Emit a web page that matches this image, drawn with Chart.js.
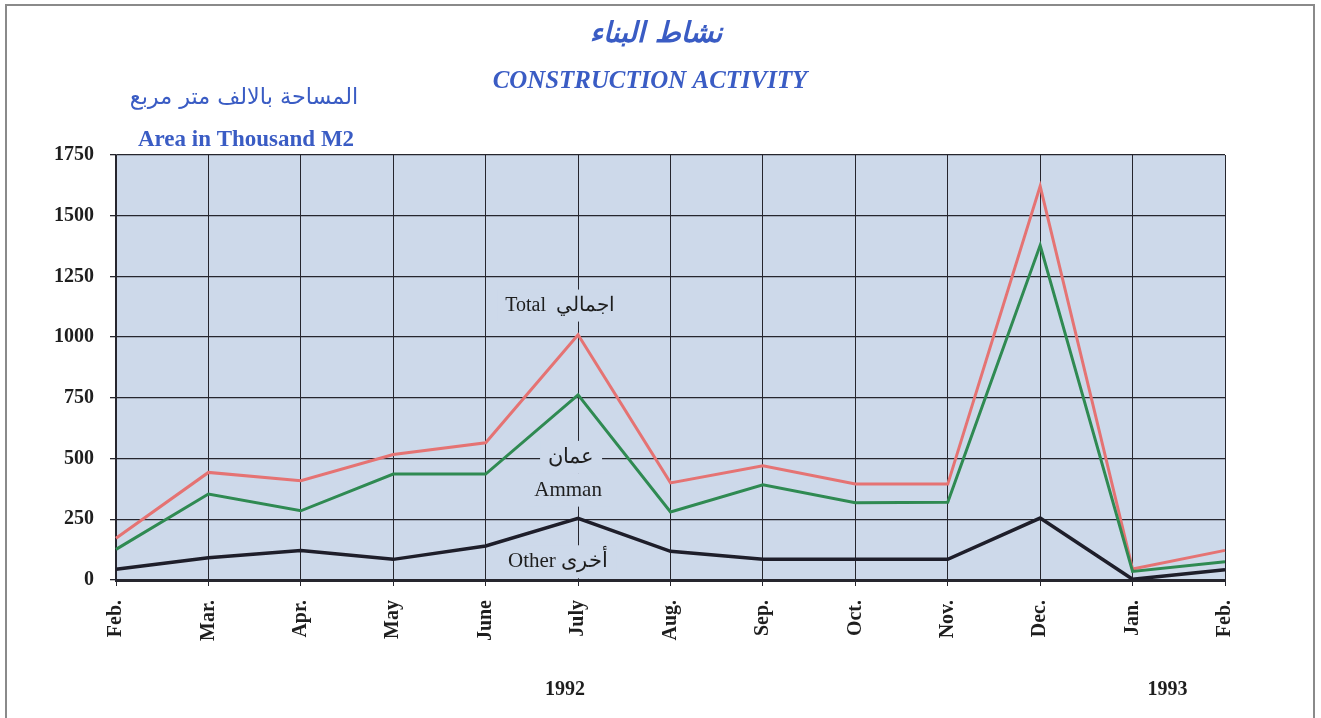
<!DOCTYPE html>
<html>
<head>
<meta charset="utf-8">
<script src="https://cdn.jsdelivr.net/npm/chart.js@4.4.1/dist/chart.umd.min.js"></script>
<style>
  html, body { margin: 0; padding: 0; background: #fff; }
  canvas { display: block; }
</style>
</head>
<body>
<canvas id="constructionChart" width="1321" height="718"></canvas>
<script>
// Data (area in thousand m2)
const months = ['Feb.', 'Mar.', 'Apr.', 'May', 'June', 'July', 'Aug.', 'Sep.', 'Oct.', 'Nov.', 'Dec.', 'Jan.', 'Feb.'];
const totalArea = [172, 443, 409, 517, 565, 1010, 400, 470, 395, 395, 1622, 45, 122];
const ammanArea = [126, 354, 285, 436, 436, 762, 280, 392, 318, 320, 1378, 35, 75];
const otherArea = [44, 92, 121, 85, 140, 254, 118, 85, 85, 85, 255, 3, 42];
const yTicks = [0, 250, 500, 750, 1000, 1250, 1500, 1750];
const years = [{ text: '1992', at: 5, dx: -13 }, { text: '1993', at: 11, dx: 35 }];

const BLUE = '#3a5cc4';
const PLOT_BG = '#cdd9ea';
const INK = '#26262e';
const SERIF = "'Liberation Serif', 'DejaVu Serif', serif";

// labels sitting on the lines near July
const seriesLabels = [
    { text: 'Total  اجمالي', at: 5, dx: -18, value: 1130, size: 20 },
    { text: 'عمان', at: 5, dx: -7, value: 505, size: 21 },
    { text: 'Amman', at: 5, dx: -10, value: 370, size: 21 },
    { text: 'Other أخرى', at: 5, dx: -20, value: 75, size: 21 }
];

function fitText(ctx, text, cx, cy, width, style, color) {
    ctx.font = style.replace('%s', 20);
    const w = ctx.measureText(text).width;
    const size = 20 * width / w;
    ctx.font = style.replace('%s', size.toFixed(1));
    ctx.fillStyle = color;
    ctx.textAlign = 'center';
    ctx.textBaseline = 'middle';
    ctx.fillText(text, cx, cy);
}

const decorPlugin = {
    id: 'decor',
    beforeDraw(chart) {
        const { ctx, chartArea: a } = chart;
        ctx.save();
        ctx.fillStyle = '#fff';
        ctx.fillRect(0, 0, chart.width, chart.height);
        ctx.fillStyle = PLOT_BG;
        ctx.fillRect(a.left, a.top, a.right - a.left, a.bottom - a.top);

        // outer frame
        ctx.strokeStyle = '#8a8a8a';
        ctx.lineWidth = 2;
        ctx.strokeRect(6, 5, 1308, 760);

        // titles
        fitText(ctx, 'نشاط البناء', 656, 35, 133, "italic bold %spx 'DejaVu Sans'", BLUE);
        fitText(ctx, 'CONSTRUCTION ACTIVITY', 650, 82, 315, 'italic bold %spx ' + SERIF, BLUE);
        fitText(ctx, 'المساحة بالالف متر مربع', 244, 98, 228, "%spx 'DejaVu Sans'", BLUE);
        fitText(ctx, 'Area in Thousand M2', 246, 140, 216, 'bold %spx ' + SERIF, BLUE);
        ctx.restore();
    },
    beforeDatasetsDraw(chart) {
        const { ctx, scales: { x, y } } = chart;
        ctx.save();
        ctx.textAlign = 'center';
        ctx.textBaseline = 'middle';
        seriesLabels.forEach(l => {
            ctx.font = l.size + 'px ' + SERIF;
            const px = x.getPixelForValue(l.at) + l.dx;
            const py = y.getPixelForValue(l.value);
            const w = ctx.measureText(l.text).width;
            ctx.fillStyle = PLOT_BG;
            ctx.fillRect(px - w / 2 - 8, py - l.size / 2 - 6, w + 16, l.size + 12);
            ctx.fillStyle = '#1e1e1e';
            ctx.fillText(l.text, px, py);
        });
        ctx.restore();
    },
    afterDraw(chart) {
        const { ctx, scales: { x } } = chart;
        ctx.save();
        ctx.font = 'bold 20px ' + SERIF;
        ctx.fillStyle = '#1e1e1e';
        ctx.textAlign = 'center';
        ctx.textBaseline = 'middle';
        years.forEach(yr => {
            ctx.fillText(yr.text, x.getPixelForValue(yr.at) + yr.dx, 690);
        });
        ctx.restore();
    }
};

const ctx = document.getElementById('constructionChart').getContext('2d');

new Chart(ctx, {
    type: 'line',
    data: {
        labels: months,
        datasets: [
            { label: 'Other', data: otherArea, borderColor: '#1e1e2a', borderWidth: 3.5 },
            { label: 'Amman', data: ammanArea, borderColor: '#2f8a52', borderWidth: 3 },
            { label: 'Total', data: totalArea, borderColor: '#e57373', borderWidth: 3 }
        ]
    },
    options: {
        responsive: false,
        animation: false,
        events: [],
        elements: {
            line: { tension: 0, fill: false, borderJoinStyle: 'miter' },
            point: { radius: 0 }
        },
        layout: { padding: { top: 155, right: 96, left: 0, bottom: 0 } },
        plugins: {
            legend: { display: false },
            tooltip: { enabled: false },
            title: { display: false }
        },
        scales: {
            x: {
                grid: { color: INK, lineWidth: 1, tickLength: 6 },
                border: { color: INK, width: 3 },
                ticks: {
                    autoSkip: false,
                    maxRotation: 90,
                    minRotation: 90,
                    padding: 14,
                    color: '#1e1e1e',
                    font: { family: SERIF, size: 20, weight: 'bold' }
                },
                afterFit(scale) { scale.height = 138; }
            },
            y: {
                min: 0,
                max: 1750,
                afterBuildTicks(scale) { scale.ticks = yTicks.map(v => ({ value: v })); },
                grid: { color: INK, lineWidth: 1.3, tickLength: 6 },
                border: { color: INK, width: 1.5 },
                ticks: {
                    padding: 16,
                    color: '#1e1e1e',
                    font: { family: SERIF, size: 20, weight: 'bold' },
                    callback: v => String(v)
                },
                afterFit(scale) { scale.width = 116; }
            }
        }
    },
    plugins: [decorPlugin]
});
</script>
</body>
</html>
